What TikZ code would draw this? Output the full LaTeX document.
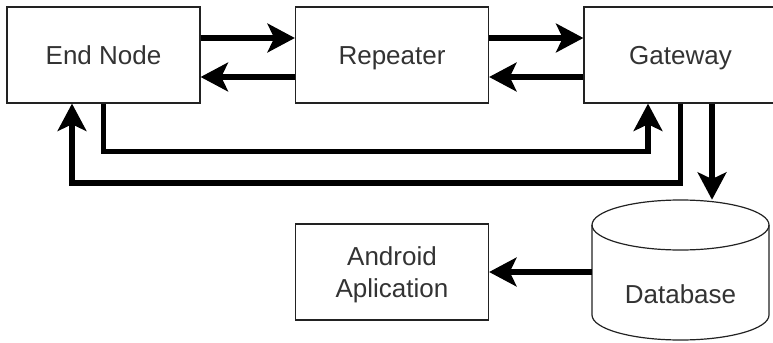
\documentclass[tikz,border=0pt]{standalone}
\usepackage{fontspec}
\setmainfont{Liberation Sans}
\usetikzlibrary{arrows.meta}
\definecolor{txt}{HTML}{333333}
\definecolor{edge}{HTML}{222222}
\tikzset{
  blk/.style={draw=edge, line width=0.9pt, fill=white, minimum width=144.75pt,
    minimum height=72pt, inner sep=0pt, text=txt, align=center,
    font=\fontsize{19.5}{24}\selectfont},
  lbl/.style={text height=14pt, text depth=0pt},
  flow/.style={line width=4.2pt, draw=black,
    -{Stealth[length=20.5pt, width=21.5pt, inset=5pt]}},
}
\begin{document}
\begin{tikzpicture}[x=0.75pt, y=-0.75pt]
  \useasboundingbox (0,0) rectangle (773,342);
  \clip (0,0) rectangle (773,342);

  % processing chain
  \node[blk, lbl] (en)  at (103.5,55) {End Node};
  \node[blk, lbl] (rep) at (392,55)   {Repeater};
  \node[blk, lbl] (gw)  at (680.5,55) {Gateway};
  \node[blk, text depth=0pt] (app) at (392,272)  {Android\\Aplication};

  % database cylinder (y axis points down, so arcs through 90 go downward)
  \draw[edge, line width=0.9pt, fill=white]
    (592,225) -- (592,315) arc[start angle=180, end angle=0, x radius=88.5, y radius=25]
    -- (769,225) arc[start angle=0, end angle=-180, x radius=88.5, y radius=25] -- cycle;
  \draw[edge, line width=0.9pt]
    (592,225) arc[start angle=180, end angle=0, x radius=88.5, y radius=25];
  \node[minimum width=132.75pt, minimum height=105pt, inner sep=0pt] (db) at (680.5,270) {};
  \node[text=txt, font=\fontsize{19.5}{24}\selectfont, lbl, inner sep=0pt] (dbl) at (680.5,294) {Database};

  % links between the blocks
  \draw[flow] (en.east |- 0,38) -- (rep.west |- 0,38);
  \draw[flow] (rep.west |- 0,77) -- (en.east |- 0,77);
  \draw[flow] (rep.east |- 0,38) -- (gw.west |- 0,38);
  \draw[flow] (gw.west |- 0,77) -- (rep.east |- 0,77);

  % return loops below the chain
  \draw[flow] (en.south) |- (648,151.5) -- (gw.south -| 648,0);
  \draw[flow] (gw.south) |- (72,183) -- (en.south -| 72,0);

  % storage and app
  \draw[flow] (gw.south -| 712,0) -- (db.north -| 712,0);
  \draw[flow] (db.west |- 0,272) -- (app.east |- 0,272);
\end{tikzpicture}
\end{document}
